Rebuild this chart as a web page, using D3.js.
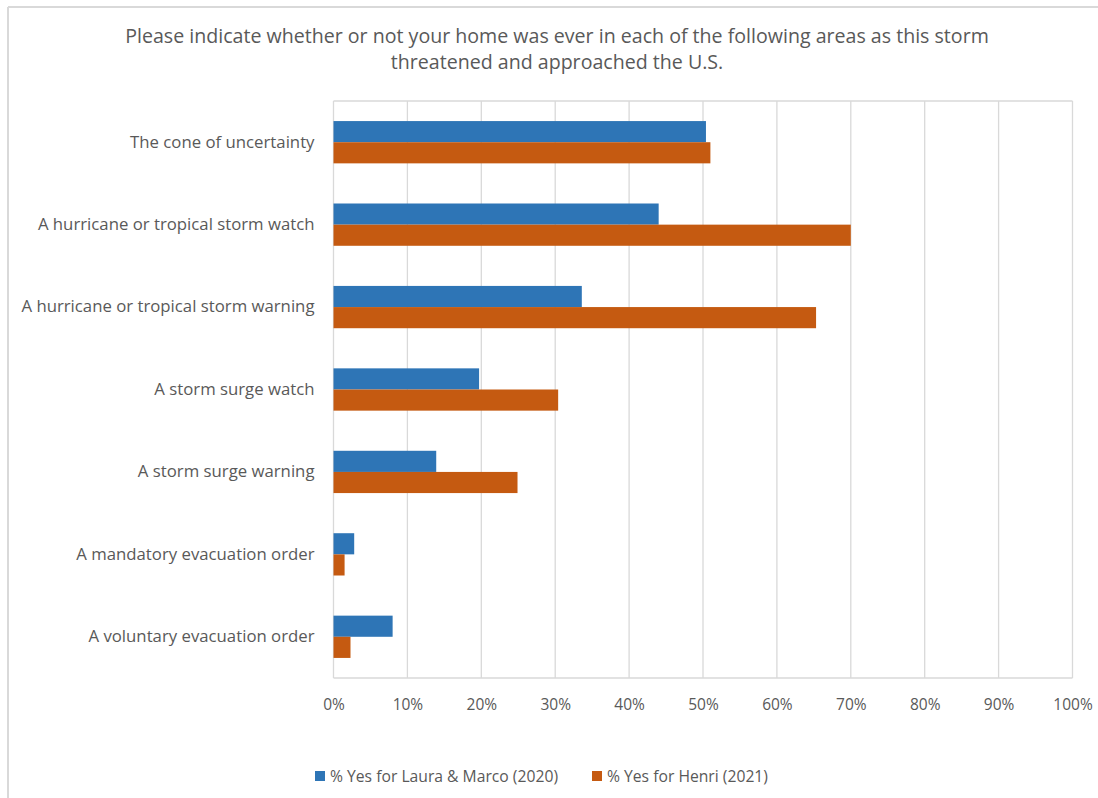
<!DOCTYPE html>
<html>
<head>
<meta charset="utf-8">
<script src="https://cdn.jsdelivr.net/npm/d3@7"></script>
<style>
  html, body { margin: 0; padding: 0; background: #ffffff; }
  svg { display: block; font-family: "Open Sans", Lato, sans-serif; }
</style>
</head>
<body>
<svg id="chart" width="1098" height="798"></svg>
<script>
// Survey categories, top to bottom
const categories = [
  "The cone of uncertainty",
  "A hurricane or tropical storm watch",
  "A hurricane or tropical storm warning",
  "A storm surge watch",
  "A storm surge warning",
  "A mandatory evacuation order",
  "A voluntary evacuation order"
];

// Percent answering "yes" per storm
const lauraMarco2020 = [50.4, 44.0, 33.6, 19.7, 13.9, 2.8, 8.0];
const henri2021 = [51.0, 70.0, 65.3, 30.4, 24.9, 1.5, 2.3];

const seriesNames = ["% Yes for Laura & Marco (2020)", "% Yes for Henri (2021)"];
const seriesColors = ["#2e75b6", "#c55a11"];

const xTicks = [0, 10, 20, 30, 40, 50, 60, 70, 80, 90, 100];

const titleLines = [
  "Please indicate whether or not your home was ever in each of the following areas as this storm",
  "threatened and approached the U.S."
];

const svg = d3.select("#chart");
const W = 1098, H = 798;
const plot = { left: 333.5, right: 1072.5, top: 101, bottom: 678 };
const FONT = "'Open Sans', Lato, sans-serif";

// Outer chart frame (left and top edges visible)
svg.append("line").attr("x1", 8).attr("y1", 7).attr("x2", W).attr("y2", 7)
  .attr("stroke", "#d9d9d9").attr("stroke-width", 2);
svg.append("line").attr("x1", 8).attr("y1", 7).attr("x2", 8).attr("y2", H)
  .attr("stroke", "#d9d9d9").attr("stroke-width", 2);

// Title
svg.append("g").selectAll("text").data(titleLines).join("text")
  .attr("x", 557).attr("y", (d, i) => 43 + i * 26)
  .attr("text-anchor", "middle")
  .attr("fill", "#595959")
  .attr("font-size", 19.6)
  .text(d => d);

const x = d3.scaleLinear().domain([0, 100]).range([plot.left, plot.right]);
const y = d3.scaleBand().domain(categories).range([plot.top, plot.bottom])
  .paddingInner(0.487).paddingOuter(0.2435);
const ySub = d3.scaleBand().domain([0, 1]).range([0, y.bandwidth()]);

// Vertical gridlines
svg.append("g").selectAll("line").data(xTicks).join("line")
  .attr("x1", d => x(d)).attr("x2", d => x(d))
  .attr("y1", plot.top).attr("y2", plot.bottom)
  .attr("stroke", "#d9d9d9").attr("stroke-width", 1.3);
// Top and bottom of plot area
svg.append("line").attr("x1", plot.left).attr("x2", plot.right)
  .attr("y1", plot.top).attr("y2", plot.top)
  .attr("stroke", "#d9d9d9").attr("stroke-width", 1.3);
svg.append("line").attr("x1", plot.left).attr("x2", plot.right)
  .attr("y1", plot.bottom).attr("y2", plot.bottom)
  .attr("stroke", "#d9d9d9").attr("stroke-width", 1.3);

// Bars
const series = [lauraMarco2020, henri2021];
series.forEach((vals, s) => {
  svg.append("g").selectAll("rect").data(vals).join("rect")
    .attr("x", x(0))
    .attr("y", (d, i) => y(categories[i]) + ySub(s))
    .attr("width", d => x(d) - x(0))
    .attr("height", ySub.bandwidth())
    .attr("fill", seriesColors[s]);
});

// X axis labels
const xAxis = d3.axisBottom(x).tickValues(xTicks).tickSize(0).tickPadding(21)
  .tickFormat(d => d + "%");
const gx = svg.append("g").attr("transform", `translate(0,${plot.bottom})`).call(xAxis);
gx.select(".domain").remove();
gx.selectAll("text").attr("fill", "#595959").attr("font-size", 15.5)
  .attr("font-family", FONT);

// Category labels
const yAxis = d3.axisLeft(y).tickSize(0).tickPadding(19);
const gy = svg.append("g").attr("transform", `translate(${plot.left},0)`).call(yAxis);
gy.select(".domain").remove();
gy.selectAll("text").attr("fill", "#595959").attr("font-size", 16.75)
  .attr("font-family", FONT);

// Legend
const legendX = [315, 592];
const lg = svg.append("g").selectAll("g").data(seriesNames).join("g")
  .attr("transform", (d, i) => `translate(${legendX[i]},776)`);
lg.append("rect").attr("x", 0).attr("y", -5).attr("width", 10).attr("height", 10)
  .attr("fill", (d, i) => seriesColors[i]);
lg.append("text").attr("x", 15).attr("y", 0).attr("dy", "0.35em")
  .attr("fill", "#595959").attr("font-size", 15.7).text(d => d);
</script>
</body>
</html>
